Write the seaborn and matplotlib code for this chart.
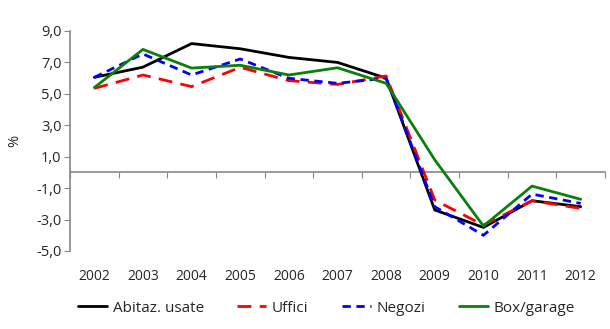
import matplotlib
matplotlib.use("Agg")
import matplotlib.pyplot as plt
import seaborn as sns
import pandas as pd
import numpy as np

years = ["2002", "2003", "2004", "2005", "2006", "2007", "2008", "2009", "2010", "2011", "2012"]
abitaz = [6.05, 6.7, 8.2, 7.87, 7.32, 7.0, 6.0, -2.39, -3.5, -1.8, -2.18]
uffici = [5.35, 6.2, 5.46, 6.69, 5.84, 5.6, 6.14, -1.76, -3.35, -1.8, -2.29]
negozi = [6.05, 7.54, 6.2, 7.22, 5.99, 5.67, 6.0, -2.18, -4.0, -1.38, -1.97]
box = [5.4, 7.83, 6.64, 6.82, 6.2, 6.66, 5.67, 0.8, -3.41, -0.87, -1.71]
series_names = ["Abitaz. usate", "Uffici", "Negozi", "Box/garage"]
yticks = [9.0, 7.0, 5.0, 3.0, 1.0, -1.0, -3.0, -5.0]

sns.set_style("white")
plt.rcParams["font.family"] = ["Open Sans", "DejaVu Sans"]

rows = []
for name, vals in zip(series_names, [abitaz, uffici, negozi, box]):
    for i, v in enumerate(vals):
        rows.append({"pos": i, "value": v, "serie": name})
df = pd.DataFrame(rows)

fig = plt.figure(figsize=(6.10, 3.29), dpi=100)
ax = fig.add_axes([70 / 610, 1 - 251 / 329, (605 - 70) / 610, 220 / 329])

palette = {"Abitaz. usate": "black", "Uffici": "#ff0000", "Negozi": "#0000ff", "Box/garage": "#0a800a"}
dashes = {"Abitaz. usate": "", "Uffici": (5, 3), "Negozi": (3, 2), "Box/garage": ""}
sns.lineplot(data=df, x="pos", y="value", hue="serie", style="serie",
             palette=palette, dashes=dashes, linewidth=2, ax=ax, legend=True,
             hue_order=series_names, style_order=series_names)

ax.set_xlim(-0.5, len(years) - 0.5)
ax.set_ylim(-5, 9)
ax.set_yticks(yticks)
ax.set_yticklabels([f"{t:.1f}".replace(".", ",") for t in yticks], fontsize=10.5)
ax.set_xticks(range(len(years)))
ax.set_xticklabels(years, fontsize=10)
ax.tick_params(axis="x", length=0, pad=13)
ax.tick_params(axis="y", length=4, color="#888888", direction="out", left=True, pad=2)
ax.set_xlabel("")
ax.set_ylabel("%", fontsize=10.5, labelpad=10)

for s in ["top", "right", "bottom"]:
    ax.spines[s].set_visible(False)
ax.spines["left"].set_color("#888888")
ax.spines["left"].set_linewidth(1.2)

sec = ax.secondary_xaxis(0, transform=ax.transData)
sec.set_xticks(np.arange(-0.5, len(years), 1.0))
sec.set_xticklabels([])
sec.tick_params(axis="x", length=4, color="#888888", direction="out")
sec.spines["bottom"].set_color("#888888")
sec.spines["bottom"].set_linewidth(1.2)

handles, labels = ax.get_legend_handles_labels()
ax.get_legend().remove()
fig.legend(handles, labels, loc="center", bbox_to_anchor=(0.535, 1 - 308 / 329),
           ncol=4, frameon=False, fontsize=11, handlelength=1.9, columnspacing=2.2,
           handletextpad=0.35)

fig.savefig("out.png", dpi=100)
